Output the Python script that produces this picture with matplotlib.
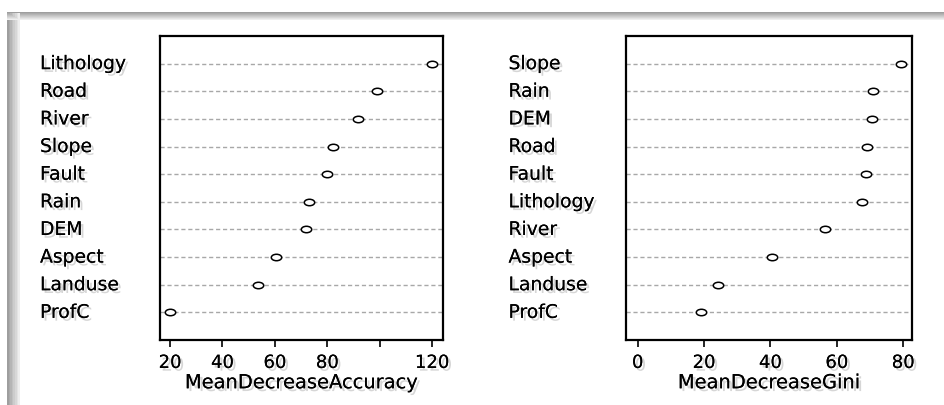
import matplotlib
matplotlib.use("Agg")
import matplotlib.pyplot as plt
import matplotlib.patheffects as pe
from matplotlib.path import Path
from matplotlib.transforms import Affine2D, blended_transform_factory
from matplotlib.patches import Rectangle
import numpy as np

# ---- data (top-to-bottom order as shown) ----
acc_labels = ["Lithology", "Road", "River", "Slope", "Fault", "Rain", "DEM",
              "Aspect", "Landuse", "ProfC"]
acc_values = [120.0, 99.0, 91.8, 82.1, 80.0, 72.9, 72.1, 60.5, 53.5, 20.0]
acc_ticks = [20, 40, 60, 80, 100, 120]
acc_ticklabels = ["20", "40", "60", "80", "", "120"]

gini_labels = ["Slope", "Rain", "DEM", "Road", "Fault", "Lithology", "River",
               "Aspect", "Landuse", "ProfC"]
gini_values = [79.5, 70.9, 70.5, 69.0, 68.9, 67.7, 56.6, 40.5, 24.1, 19.0]
gini_ticks = [0, 20, 40, 60, 80]
gini_ticklabels = ["0", "20", "40", "60", "80"]

plt.rcParams['font.family'] = ['DejaVu Sans']

fig = plt.figure(figsize=(9.44, 4.05), dpi=100)

# outer shadow frame (top and left gray bands)
for i in range(8):
    c = 0.62 + i * 0.045
    fig.patches.append(Rectangle((7 / 944, 1 - (13 + i) / 405), 1, 1 / 405,
                                 transform=fig.transFigure, color=(c, c, c),
                                 lw=0, zorder=0))
    fig.patches.append(Rectangle(((7 + i * 1.6) / 944, 0), 1.6 / 944, 1 - 13 / 405,
                                 transform=fig.transFigure, color=(c, c, c),
                                 lw=0, zorder=0))

shadow = [pe.withSimplePatchShadow(offset=(2, -2), shadow_rgbFace=(0.6, 0.6, 0.6), alpha=0.4),
          pe.Normal()]

ell = Path.unit_circle().transformed(Affine2D().scale(1.0, 0.62))


def panel(rect, labels, values, ticks, ticklabels, xlim, xlabel, label_x_px):
    ax = fig.add_axes(rect)
    n = len(labels)
    ypos = np.arange(n, 0, -1)
    for y in ypos:
        ax.axhline(y, color="#a8a8a8", lw=1.0, ls=(0, (3, 2)), zorder=1)
    ax.plot(values, ypos, ls="none", marker=ell, ms=7.5, mfc="white",
            mec="black", mew=1.1, zorder=3)
    ax.set_xlim(*xlim)
    ax.set_ylim(0, n + 1)
    ax.set_xticks(ticks)
    ax.set_xticklabels(ticklabels, fontsize=13)
    for t in ax.get_xticklabels():
        t.set_path_effects(shadow)
    ax.tick_params(axis="x", direction="out", length=5, width=1.2, pad=5,
                   color="black")
    ax.set_yticks([])
    for sp in ax.spines.values():
        sp.set_linewidth(1.6)
        sp.set_color("black")
    ax.set_xlabel(xlabel, fontsize=14, labelpad=1, path_effects=shadow)
    # category labels, left-aligned at a fixed figure x
    trans = blended_transform_factory(fig.transFigure, ax.transData)
    x0 = label_x_px / 944
    for lab, y in zip(labels, ypos):
        ax.text(x0, y, lab, transform=trans, ha="left", va="center",
                fontsize=13.5, path_effects=shadow)
    return ax


panel([160 / 944, 65 / 405, 283 / 944, 304 / 405], acc_labels, acc_values,
      acc_ticks, acc_ticklabels, (16.2, 124.2), "MeanDecreaseAccuracy", 40)
panel([626.3 / 944, 65 / 405, 285.7 / 944, 304 / 405], gini_labels, gini_values,
      gini_ticks, gini_ticklabels, (-3.4, 82.7), "MeanDecreaseGini", 508.5)

fig.savefig("out.png", dpi=100)
